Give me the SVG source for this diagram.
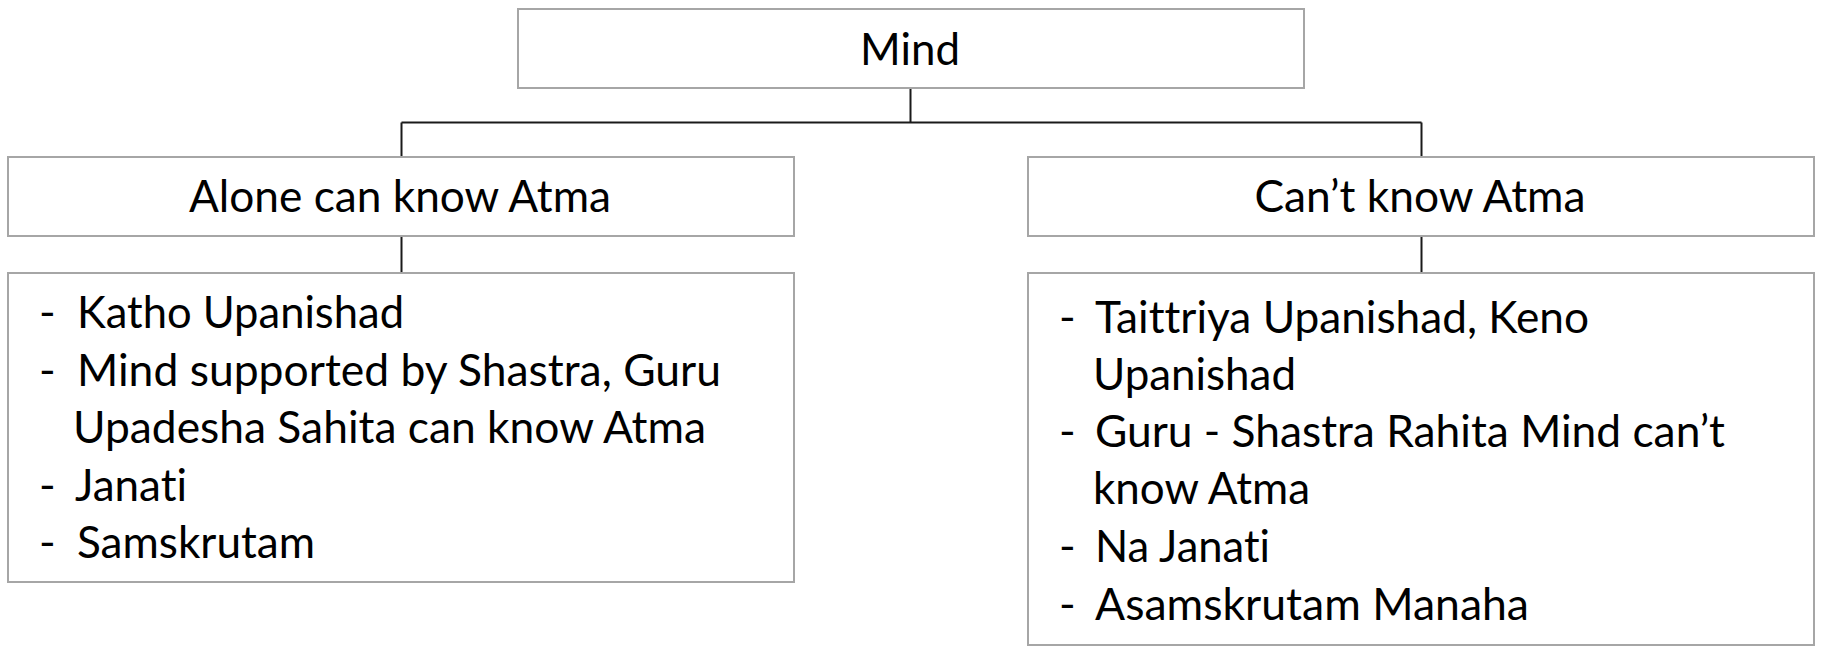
<svg xmlns="http://www.w3.org/2000/svg" width="1823" height="648" viewBox="0 0 1823 648">
<style>
.box{fill:#fff;stroke:#a6a6a6;stroke-width:2}
.con{fill:none;stroke:#1a1a1a;stroke-width:2}
text{font-family:Lato,"Liberation Sans",sans-serif;font-size:45px;fill:#000;font-variant-ligatures:none;font-feature-settings:"liga" 0,"clig" 0,"dlig" 0}
.c{text-anchor:middle}
</style>
<rect width="1823" height="648" fill="#fff"/>
<g id="connectors">
<path class="con" d="M910.5 88V122.5M401.5 122.5H1421.5M401.5 122.5V157M1421.5 122.5V157"/>
<path class="con" d="M401.5 236V273M1421.5 236V273"/>
</g>
<g id="mind">
<rect class="box" x="518" y="9" width="786" height="79"/>
<text class="c" x="910" y="65" textLength="100" lengthAdjust="spacingAndGlyphs">Mind</text>
</g>
<g id="alone">
<rect class="box" x="8" y="157" width="786" height="79"/>
<text class="c" x="400" y="212" textLength="422" lengthAdjust="spacingAndGlyphs">Alone can know Atma</text>
</g>
<g id="cant">
<rect class="box" x="1028" y="157" width="786" height="79"/>
<text class="c" x="1420" y="212" textLength="331" lengthAdjust="spacingAndGlyphs">Can’t know Atma</text>
</g>
<g id="alone-list">
<rect class="box" x="8" y="273" width="786" height="309"/>
<text x="39" y="328">-</text>
<text x="77" y="328" textLength="327" lengthAdjust="spacingAndGlyphs">Katho Upanishad</text>
<text x="39" y="386">-</text>
<text x="77" y="386" textLength="644" lengthAdjust="spacingAndGlyphs">Mind supported by Shastra, Guru</text>
<text x="73" y="443" textLength="633" lengthAdjust="spacingAndGlyphs">Upadesha Sahita can know Atma</text>
<text x="39" y="501">-</text>
<text x="75" y="501" textLength="112" lengthAdjust="spacingAndGlyphs">Janati</text>
<text x="39" y="558">-</text>
<text x="77" y="558" textLength="238" lengthAdjust="spacingAndGlyphs">Samskrutam</text>
</g>
<g id="cant-list">
<rect class="box" x="1028" y="273" width="786" height="372"/>
<text x="1059" y="333">-</text>
<text x="1095" y="333" textLength="494" lengthAdjust="spacingAndGlyphs">Taittriya Upanishad, Keno</text>
<text x="1093" y="390" textLength="203" lengthAdjust="spacingAndGlyphs">Upanishad</text>
<text x="1059" y="447">-</text>
<text x="1095" y="447" textLength="630" lengthAdjust="spacingAndGlyphs">Guru - Shastra Rahita Mind can’t</text>
<text x="1093" y="504" textLength="217" lengthAdjust="spacingAndGlyphs">know Atma</text>
<text x="1059" y="562">-</text>
<text x="1095" y="562" textLength="175" lengthAdjust="spacingAndGlyphs">Na Janati</text>
<text x="1059" y="620">-</text>
<text x="1095" y="620" textLength="434" lengthAdjust="spacingAndGlyphs">Asamskrutam Manaha</text>
</g>
</svg>
